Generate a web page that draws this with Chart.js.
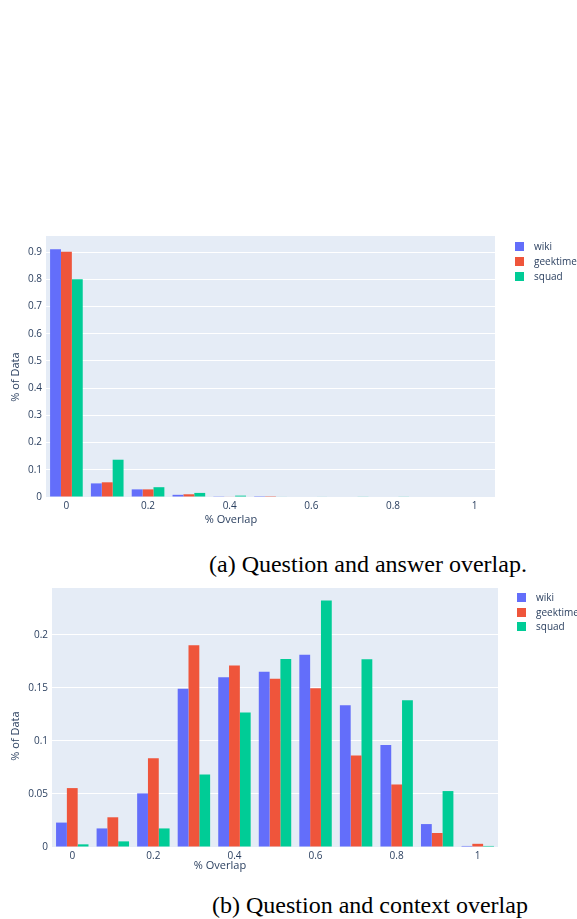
<!DOCTYPE html>
<html>
<head>
<meta charset="utf-8">
<script src="https://cdn.jsdelivr.net/npm/chart.js@4/dist/chart.umd.min.js"></script>
<style>
  html, body { margin: 0; padding: 0; background: #ffffff; }
  body { width: 577px; height: 919px; position: relative; overflow: hidden; }
  canvas { position: absolute; left: 0; }
  .cap { position: absolute; font-family: 'Liberation Serif', 'Times New Roman', serif; font-size: 24px; line-height: 24px; color: #000; white-space: nowrap; }
  .atitle { position: absolute; font-family: 'Open Sans', 'DejaVu Sans', sans-serif; font-size: 11px; line-height: 14px; color: #2a3f5f; white-space: nowrap; transform: translate(-50%, -50%); }
  .ytitle { transform: translate(-50%, -50%) rotate(-90deg); }
  .legend { position: absolute; font-family: 'Open Sans', 'DejaVu Sans', sans-serif; font-size: 10px; color: #2a3f5f; }
  .legend .row { position: absolute; left: 0; height: 12px; white-space: nowrap; }
  .legend .box { position: absolute; left: 0; top: 1px; width: 9px; height: 9px; }
  .legend .txt { position: absolute; left: 19px; top: -2px; line-height: 14px; }
</style>
</head>
<body>
<canvas id="c1" width="577" height="300" style="top:230px"></canvas>
<canvas id="c2" width="577" height="295" style="top:582px"></canvas>

<div class="atitle ytitle" style="left:15px; top:377px">% of Data</div>
<div class="atitle" style="left:231px; top:519px">% Overlap</div>
<div class="atitle ytitle" style="left:15px; top:736px">% of Data</div>
<div class="atitle" style="left:220px; top:865px">% Overlap</div>

<div class="legend" id="lg1" style="left:515px; top:241px"></div>
<div class="legend" id="lg2" style="left:517px; top:592px"></div>

<div class="cap" style="left:209px; top:552px">(a) Question and answer overlap.</div>
<div class="cap" style="left:212px; top:893px">(b) Question and context overlap</div>

<script>
// ---- data ----
const xLabels = ['0','0.1','0.2','0.3','0.4','0.5','0.6','0.7','0.8','0.9','1'];
const seriesNames = ['wiki', 'geektime', 'squad'];
const seriesColors = ['#636EFA', '#EF553B', '#00CC96'];

// (a) Question and answer overlap
const qaWiki     = [0.910, 0.050, 0.028, 0.008, 0.001, 0.0005, 0, 0, 0, 0, 0];
const qaGeektime = [0.901, 0.054, 0.028, 0.010, 0.002, 0.0005, 0, 0, 0, 0, 0];
const qaSquad    = [0.800, 0.137, 0.036, 0.015, 0.005, 0.002, 0.002, 0.0015, 0.0015, 0, 0];
const qaYTicks   = [0, 0.1, 0.2, 0.3, 0.4, 0.5, 0.6, 0.7, 0.8, 0.9];

// (b) Question and context overlap
const qcWiki     = [0.023, 0.0175, 0.0505, 0.149, 0.160, 0.165, 0.181, 0.1336, 0.096, 0.0216, 0.001];
const qcGeektime = [0.0555, 0.028, 0.0837, 0.190, 0.171, 0.1586, 0.1496, 0.0862, 0.0589, 0.0132, 0.003];
const qcSquad    = [0.0025, 0.0053, 0.0175, 0.0683, 0.1266, 0.177, 0.2323, 0.1769, 0.1383, 0.0527, 0.001];
const qcYTicks   = [0, 0.05, 0.1, 0.15, 0.2];

// ---- helpers ----
const bgPlugin = {
  id: 'plotbg',
  beforeDraw(chart) {
    const a = chart.chartArea, ctx = chart.ctx;
    ctx.save();
    ctx.fillStyle = '#E5ECF6';
    ctx.fillRect(a.left, a.top, a.right - a.left, a.bottom - a.top);
    ctx.restore();
  }
};

function makeChart(id, series, yTicks, yMax, yAxisW, xAxisH, pad) {
  const datasets = series.map((d, i) => ({
    label: seriesNames[i],
    data: d,
    backgroundColor: seriesColors[i],
    borderWidth: 0,
    categoryPercentage: 0.8,
    barPercentage: 1.0
  }));
  return new Chart(document.getElementById(id), {
    type: 'bar',
    data: { labels: xLabels, datasets },
    plugins: [bgPlugin],
    options: {
      responsive: false,
      devicePixelRatio: 1,
      animation: false,
      layout: { padding: pad },
      plugins: { legend: { display: false }, tooltip: { enabled: false } },
      scales: {
        x: {
          type: 'category',
          offset: true,
          grid: { display: false, drawTicks: false },
          border: { display: false },
          ticks: {
            padding: 3,
            maxRotation: 0,
            autoSkip: false,
            color: '#2a3f5f',
            font: { family: "'Open Sans', 'DejaVu Sans', sans-serif", size: 10 },
            callback: (v, i) => (i % 2 === 0 ? xLabels[i] : '')
          },
          afterFit: s => { s.height = xAxisH; s.paddingLeft = 0; s.paddingRight = 0; }
        },
        y: {
          type: 'linear',
          min: 0,
          max: yMax,
          grid: { color: '#ffffff', lineWidth: 1, drawTicks: false },
          border: { display: false },
          afterBuildTicks: s => { s.ticks = yTicks.map(v => ({ value: v })); },
          ticks: {
            padding: 4,
            color: '#2a3f5f',
            font: { family: "'Open Sans', 'DejaVu Sans', sans-serif", size: 10 },
            callback: v => String(Number(v.toFixed(3)))
          },
          afterFit: s => { s.width = yAxisW; s.paddingTop = 0; s.paddingBottom = 0; }
        }
      }
    }
  });
}

makeChart('c1', [qaWiki, qaGeektime, qaSquad], qaYTicks, 0.959, 46, 33,
          { left: 0, top: 6, right: 82, bottom: 0 });
makeChart('c2', [qcWiki, qcGeektime, qcSquad], qcYTicks, 0.244, 52, 30,
          { left: 0, top: 6, right: 79, bottom: 0 });

// legends built from the series names/colours
function buildLegend(id, step) {
  const el = document.getElementById(id);
  seriesNames.forEach((n, i) => {
    const r = document.createElement('div');
    r.className = 'row';
    r.style.top = (i * step) + 'px';
    r.innerHTML = '<div class="box" style="background:' + seriesColors[i] + '"></div><div class="txt">' + n + '</div>';
    el.appendChild(r);
  });
}
buildLegend('lg1', 15);
buildLegend('lg2', 14.5);
</script>
</body>
</html>
